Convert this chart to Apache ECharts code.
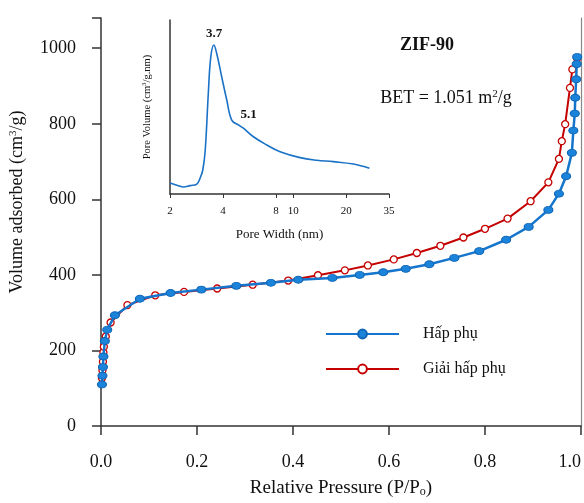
<!DOCTYPE html>
<html>
<head>
<meta charset="utf-8">
<script src="https://cdn.jsdelivr.net/npm/echarts@6/dist/echarts.min.js"></script>
<style>html,body{margin:0;padding:0;background:#fff}#c{width:584px;height:503px}</style>
</head>
<body>
<div id="c"></div>
<script>
// Adsorption branch (Hấp phụ)
var adsP = [0.002,0.003,0.004,0.005,0.008,0.013,0.029,0.081,0.145,0.209,0.282,0.354,0.411,0.482,0.539,0.588,0.635,0.684,0.736,0.788,0.844,0.891,0.932,0.954,0.969,0.981,0.984,0.987,0.988,0.990,0.991,0.992];
var adsV = [110,133,156,184,225,255,293,337,352,361,371,379,387,392,400,407,416,428,445,463,493,527,572,615,661,723,782,827,869,918,958,977];
// Desorption branch (Giải hấp phụ)
var desP = [0.002,0.003,0.004,0.005,0.006,0.010,0.020,0.055,0.113,0.173,0.242,0.316,0.390,0.452,0.508,0.556,0.610,0.658,0.707,0.755,0.800,0.847,0.895,0.932,0.954,0.960,0.967,0.977,0.982,0.992];
var desV = [127,147,170,195,210,237,274,320,346,355,364,374,385,399,412,425,441,458,477,499,522,549,595,645,707,754,799,895,944,973];
// Inset: pore size distribution (relative units)
var poreWidth = [2.0,2.23,2.38,2.60,2.84,2.96,3.07,3.17,3.30,3.41,3.55,3.68,3.93,4.20,4.48,4.89,5.22,5.95,7.09,8.43,10.95,13.6,16.9,22.0,27.1];
var poreVolume = [0.063,0.048,0.040,0.048,0.057,0.090,0.138,0.253,0.579,0.789,0.856,0.809,0.674,0.540,0.425,0.397,0.378,0.329,0.282,0.243,0.209,0.194,0.186,0.172,0.148];
var peakLabels = {10: '3.7', 16: '5.1'};
var insetTicks = [2,4,8,10,20,35];
var mainYLabels = [0,200,400,600,800,1000];
var mainYTicks = [0,200,400,600,800,1000,1080];
var seriesNames = ['Hấp phụ','Giải hấp phụ'];
var sampleName = 'ZIF-90';
var betText = 'BET = 1.051 m{sup|2}/g';

var FONT = '"Liberation Serif","DejaVu Serif",serif';
function pairs(a,b){return a.map(function(v,i){return [v,b[i]];});}
var insetData = poreWidth.map(function(w,i){
  var item = {value:[w,poreVolume[i]]};
  if (peakLabels[i]) {
    item.label = {show:true, formatter: peakLabels[i], position: i===10 ? [-8,-18] : [-3,-20],
      fontFamily: FONT, fontWeight:'bold', fontSize:13, color:'#111'};
  }
  return item;
});

var chart = echarts.init(document.getElementById('c'), null, {renderer:'canvas'});
chart.setOption({
  animation:false,
  backgroundColor:'#fff',
  title:[
    {text: sampleName, left: 427, top: 36, textAlign:'center', padding:0,
     textStyle:{fontFamily:FONT, fontWeight:'bold', fontSize:18, color:'#111'}},
    {text: betText, left: 446, top: 89, textAlign:'center', padding:0,
     textStyle:{fontFamily:FONT, fontWeight:'normal', fontSize:18, color:'#111',
       rich:{sup:{fontFamily:FONT, fontSize:11, verticalAlign:'top', padding:[0,0,8,0], color:'#111'}}}}
  ],
  legend:{
    data: seriesNames, orient:'vertical', left: 325, top: 324, padding:0, itemWidth: 73, itemHeight: 11, itemGap: 15,
    textStyle:{fontFamily:FONT, fontSize:16, color:'#111', lineHeight:20, padding:[0,0,0,19]}
  },
  grid:[
    {left:101, right:1, top:18, bottom:77},
    {left:170, top:20, width:219, height:174}
  ],
  xAxis:[
    {type:'value', gridIndex:0, min:0, max:1, interval:0.2,
     name:'Relative Pressure (P/P{sub|o})', nameLocation:'middle', nameGap:52,
     nameTextStyle:{fontFamily:FONT, fontSize:19, color:'#111',
       rich:{sub:{fontFamily:FONT, fontSize:12, verticalAlign:'bottom', padding:[8,0,0,0], color:'#111'}}},
     axisLine:{lineStyle:{color:'#333', width:1.5}},
     axisTick:{show:true, inside:false, length:9, lineStyle:{color:'#333', width:1.5}},
     axisLabel:{margin:27, fontFamily:FONT, fontSize:18, color:'#111', alignMaxLabel:'right',
       formatter:function(v){return v.toFixed(1);}},
     splitLine:{show:false}},
    {type:'log', logBase:2, gridIndex:1, min:2, max:35,
     name:'Pore Width (nm)', nameLocation:'middle', nameGap:34,
     nameTextStyle:{fontFamily:FONT, fontSize:13, color:'#111'},
     axisLine:{lineStyle:{color:'#333', width:1.5}},
     axisTick:{show:true, length:4, customValues: insetTicks, lineStyle:{color:'#333'}},
     axisLabel:{margin:12, fontFamily:FONT, fontSize:11, color:'#111', customValues: insetTicks},
     splitLine:{show:false}, minorTick:{show:false}}
  ],
  yAxis:[
    {type:'value', gridIndex:0, min:0, max:1080, interval:200,
     name:'Volume adsorbed (cm{sup|3}/g)', nameLocation:'middle', nameGap:74,
     nameTextStyle:{fontFamily:FONT, fontSize:18, color:'#111', padding:[0,0,0,40],
       rich:{sup:{fontFamily:FONT, fontSize:11, verticalAlign:'top', padding:[0,0,8,0], color:'#111'}}},
     axisLine:{show:true, lineStyle:{color:'#333', width:1.5}},
     axisTick:{show:true, length:9, customValues: mainYTicks, lineStyle:{color:'#333', width:1.5}},
     axisLabel:{margin:25, fontFamily:FONT, fontSize:18, color:'#111', customValues: mainYLabels,
       formatter:function(v){return String(v);}},
     splitLine:{show:false}},
    {type:'value', gridIndex:0, min:0, max:1080, position:'right',
     axisLine:{show:true, lineStyle:{color:'#888', width:1.2}},
     axisTick:{show:false}, axisLabel:{show:false}, splitLine:{show:false}},
    {type:'value', gridIndex:1, min:0, max:1,
     name:'Pore Volume (cm{sup|3}/g.nm)', nameLocation:'middle', nameGap:17,
     nameTextStyle:{fontFamily:FONT, fontSize:10.5, color:'#111',
       rich:{sup:{fontFamily:FONT, fontSize:7, verticalAlign:'top', padding:[0,0,5,0], color:'#111'}}},
     axisLine:{show:true, lineStyle:{color:'#333', width:1.5}},
     axisTick:{show:false}, axisLabel:{show:false}, splitLine:{show:false}}
  ],
  series:[
    {name: seriesNames[1], type:'line', xAxisIndex:0, yAxisIndex:0, data: pairs(desP,desV),
     symbol:'circle', symbolSize:7, showAllSymbol:true,
     lineStyle:{color:'#c40000', width:2},
     itemStyle:{color:'#ffffff', borderColor:'#c40000', borderWidth:1.3}, z:2},
    {name: seriesNames[0], type:'line', xAxisIndex:0, yAxisIndex:0, data: pairs(adsP,adsV),
     symbol:'circle', symbolSize:[9,7], showAllSymbol:true,
     lineStyle:{color:'#1575cc', width:2.5},
     itemStyle:{color:'#1b84da', borderColor:'#0f65b5', borderWidth:1}, z:3},
    {name:'PSD', type:'line', xAxisIndex:1, yAxisIndex:2, data: insetData, smooth:0.4,
     symbol:'circle', symbolSize:0, showAllSymbol:true,
     lineStyle:{color:'#1a72c6', width:1.6}, itemStyle:{color:'#1a72c6'}}
  ]
});
</script>
</body>
</html>
